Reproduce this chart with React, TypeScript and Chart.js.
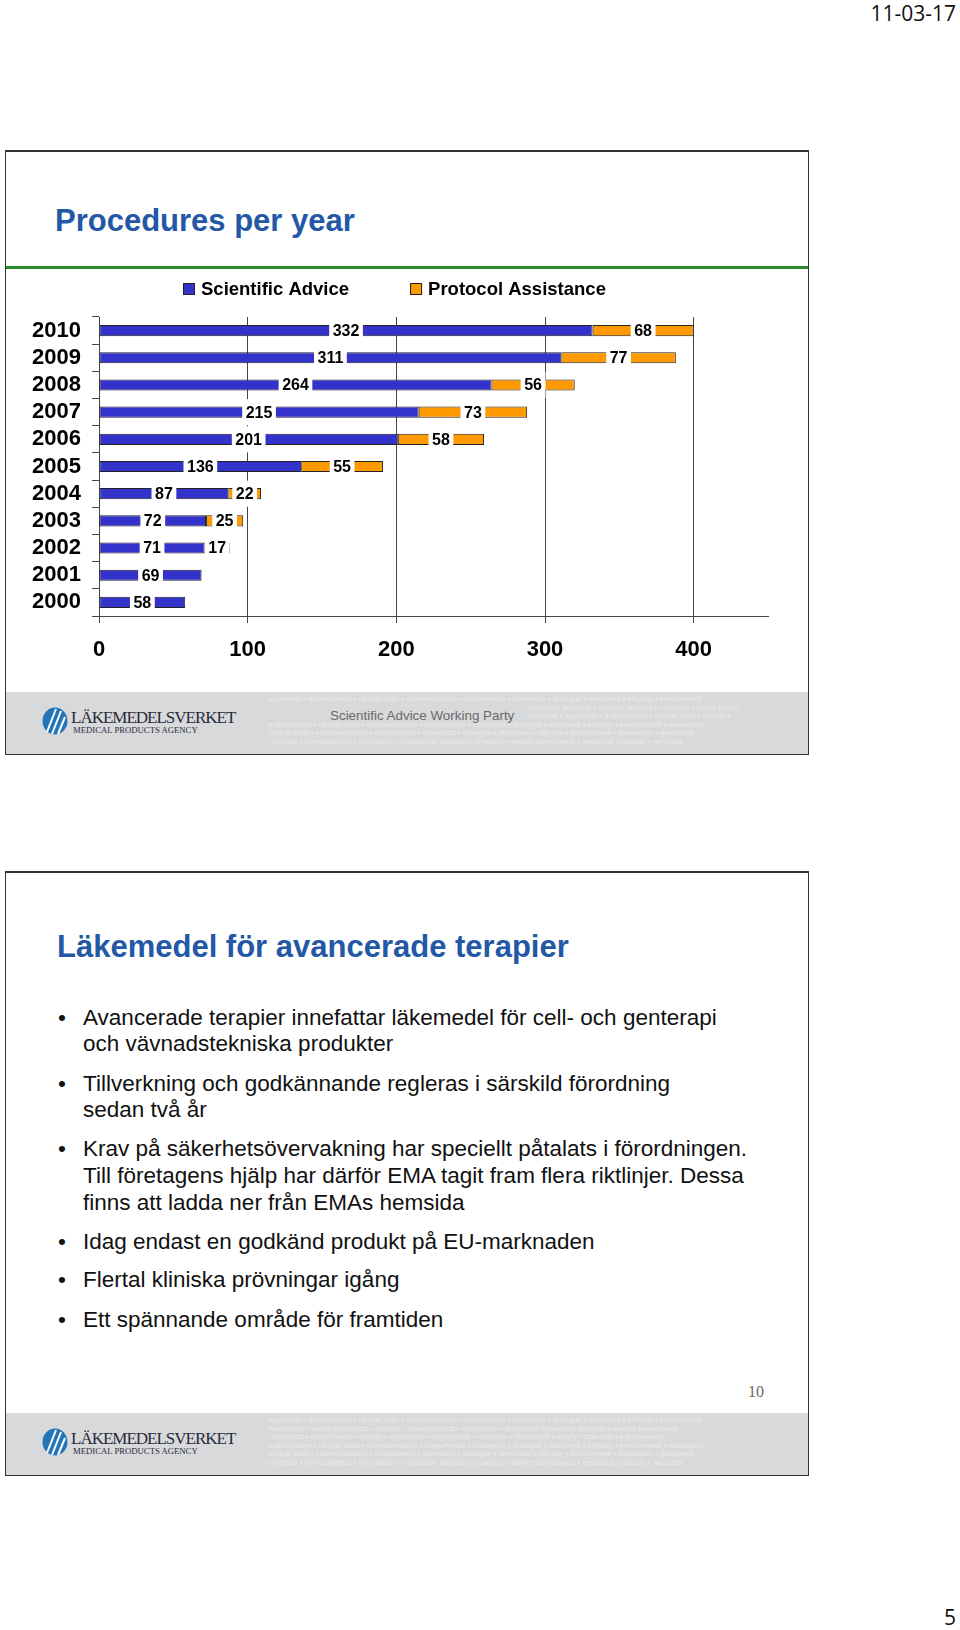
import React, { useEffect, useRef } from 'react';
import { Chart, registerables } from 'chart.js';

Chart.register(...registerables);

// ---------- data ----------
const years = ['2000', '2001', '2002', '2003', '2004', '2005', '2006', '2007', '2008', '2009', '2010'];
const scientificAdvice = [58, 69, 71, 72, 87, 136, 201, 215, 264, 311, 332];
const protocolAssistance = [null, null, 17, 25, 22, 55, 58, 73, 56, 77, 68];
const seriesNames = ['Scientific Advice', 'Protocol Assistance'];
const seriesColors = ['#3333CC', '#FF9900'];
const xMin = 0;
const xMax = 450;
const xStep = 100;
const xLastTick = 400;

const FONT = '"Liberation Sans", Arial, Helvetica, sans-serif';

const legendPlugin = {
  id: 'topLegend',
  afterDraw(chart: any) {
    const { ctx } = chart;
    const ds = chart.data.datasets;
    ctx.save();
    ctx.font = `bold 18.5px ${FONT}`;
    const box = 12;
    const gapText = 6;
    const gapItem = 61;
    const widths = ds.map((d: any) => box + gapText + ctx.measureText(d.label).width);
    const total = widths.reduce((a: number, b: number) => a + b, 0) + gapItem * (ds.length - 1);
    let x = Math.round(chart.width / 2 - total / 2);
    const y = 19;
    ds.forEach((d: any, i: number) => {
      ctx.fillStyle = d.backgroundColor;
      ctx.fillRect(x, y - box / 2, box, box);
      ctx.strokeStyle = '#222';
      ctx.lineWidth = 1;
      ctx.strokeRect(x + 0.5, y - box / 2 + 0.5, box - 1, box - 1);
      ctx.fillStyle = '#000';
      ctx.textBaseline = 'middle';
      ctx.textAlign = 'left';
      ctx.fillText(d.label, x + box + gapText, y + 1);
      x += widths[i] + gapItem;
    });
    ctx.restore();
  },
};

const segmentLabelPlugin = {
  id: 'segmentLabels',
  afterDatasetsDraw(chart: any) {
    const { ctx } = chart;
    ctx.save();
    ctx.font = `bold 16px ${FONT}`;
    ctx.textAlign = 'center';
    ctx.textBaseline = 'middle';
    chart.data.datasets.forEach((d: any, di: number) => {
      const meta = chart.getDatasetMeta(di);
      meta.data.forEach((bar: any, i: number) => {
        const v = d.data[i];
        if (v === null || v === undefined || v === 0) return;
        const p = bar.getProps(['x', 'y', 'base'], true);
        const cx = (p.x + p.base) / 2;
        const text = String(v);
        const w = ctx.measureText(text).width + 7;
        ctx.fillStyle = '#fff';
        ctx.fillRect(cx - w / 2, p.y - 13, w, 26);
        ctx.fillStyle = '#000';
        ctx.fillText(text, cx, p.y + 1);
      });
    });
    ctx.restore();
  },
};

function ProceduresChart() {
  const ref = useRef<HTMLCanvasElement | null>(null);
  useEffect(() => {
    if (!ref.current) return;
    const chart = new Chart(ref.current, {
      type: 'bar',
      data: {
        labels: years,
        datasets: [
          {
            label: seriesNames[0],
            data: scientificAdvice,
            backgroundColor: seriesColors[0],
            borderColor: '#222',
            borderWidth: 1,
            borderSkipped: false,
            barPercentage: 0.41,
            categoryPercentage: 1,
          },
          {
            label: seriesNames[1],
            data: protocolAssistance as any,
            backgroundColor: seriesColors[1],
            borderColor: '#222',
            borderWidth: 1,
            borderSkipped: false,
            barPercentage: 0.41,
            categoryPercentage: 1,
          },
        ],
      },
      options: {
        indexAxis: 'y',
        animation: false,
        responsive: false,
        maintainAspectRatio: false,
        layout: { padding: { top: 47, right: 3, left: 0, bottom: 0 } },
        plugins: { legend: { display: false }, tooltip: { enabled: false } },
        scales: {
          x: {
            stacked: true,
            min: xMin,
            max: xMax,
            ticks: {
              stepSize: xStep,
              font: { family: FONT, size: 22, weight: 'bold' },
              color: '#000',
              padding: 14,
            },
            grid: { color: '#444', lineWidth: 1, tickLength: 7, drawTicks: true },
            border: { color: '#444', width: 1 },
            afterBuildTicks: (s: any) => {
              s.ticks = s.ticks.filter((t: any) => t.value <= xLastTick);
            },
            afterFit: (s: any) => {
              s.height = 64;
            },
          } as any,
          y: {
            stacked: true,
            reverse: true,
            ticks: {
              autoSkip: false,
              font: { family: FONT, size: 22, weight: 'bold' },
              color: '#000',
              padding: 11,
            },
            grid: { drawOnChartArea: false, tickLength: 7, color: '#444', offset: true },
            border: { color: '#444', width: 1 },
            afterFit: (s: any) => {
              s.width = 82;
            },
          } as any,
        },
      },
      plugins: [legendPlugin, segmentLabelPlugin],
    });
    return () => chart.destroy();
  }, []);
  return (
    <canvas
      ref={ref}
      width={754}
      height={410}
      style={{ position: 'absolute', left: 17, top: 270, width: 754, height: 410 }}
    />
  );
}

const patternLines = [
  'approvals • authorisation • clinical trials • communication • competence • cosmetics • dialogue • directives • efficacy • environment',
  'evaluation • health economics • herbals • homeopathics • information • inspection laboratory analysis • market surveillance',
  '• narcotics • public health • quality • registration • regulations • reliability • risk/benefit • safety • scientific • transparency',
  'authorisation • clinical trials • communication • competence • cosmetics • dialogue • directives • efficacy • environment • evaluation',
  'clinical trials • communication • competence • cosmetics • dialogue • directives • efficacy • environment • evaluation • guidelines',
  '• herbals • homeopathics • information • inspection laboratory analysis • market surveillance • medicinal products • narcotics',
];
const patternLinesShort = [
  'medicinal products • medical devices • narcotics • public health',
  'vigilance • approvals • authorisation • clinical trials • dialogue',
];

function Footer({ top, caption }: { top: number; caption?: string }) {
  return (
    <div
      style={{
        position: 'absolute',
        left: 6,
        top,
        width: 802,
        height: 62,
        background: '#d8d9db',
        overflow: 'hidden',
      }}
    >
      <div style={{ position: 'absolute', left: 262, top: 3 }}>
        {patternLines.map((l, i) => {
          const skip = caption && (i === 1 || i === 2);
          return (
            <div
              key={i}
              style={{
                fontFamily: FONT,
                fontSize: 7.6,
                lineHeight: '8.6px',
                height: 8.6,
                color: '#e8e9ea',
                whiteSpace: 'nowrap',
                paddingLeft: skip ? 260 : 0,
              }}
            >
              {skip ? patternLinesShort[i - 1] : l}
            </div>
          );
        })}
      </div>
      <svg
        width={28}
        height={30}
        viewBox="0 0 28 30"
        style={{ position: 'absolute', left: 35, top: 14 }}
      >
        <ellipse cx={14} cy={15} rx={12.5} ry={13.5} fill="#2474b8" />
        <path d="M6 26 L15 3" stroke="#fff" strokeWidth={2} />
        <path d="M11 28 L20 5" stroke="#fff" strokeWidth={2} />
        <path d="M17 28 L24 11" stroke="#fff" strokeWidth={2} />
      </svg>
      <div
        style={{
          position: 'absolute',
          left: 65,
          top: 16,
          fontFamily: '"Liberation Serif", "Times New Roman", serif',
          fontSize: 17,
          letterSpacing: -1,
          lineHeight: '20px',
          color: '#2a2a3a',
          whiteSpace: 'nowrap',
        }}
      >
        LÄKEMEDELSVERKET
      </div>
      <div
        style={{
          position: 'absolute',
          left: 67,
          top: 33,
          fontFamily: '"Liberation Serif", "Times New Roman", serif',
          fontSize: 8.7,
          lineHeight: '10px',
          color: '#2a2a3a',
          whiteSpace: 'nowrap',
        }}
      >
        MEDICAL PRODUCTS AGENCY
      </div>
      {caption ? (
        <div
          style={{
            position: 'absolute',
            left: 324,
            top: 16,
            fontFamily: FONT,
            fontSize: 13.4,
            lineHeight: '16px',
            color: '#6a6a6a',
            whiteSpace: 'nowrap',
          }}
        >
          {caption}
        </div>
      ) : null}
    </div>
  );
}

const bodyLines = [
  { bullet: true, text: 'Avancerade terapier innefattar läkemedel för cell- och genterapi', y: 1019 },
  { bullet: false, text: 'och vävnadstekniska produkter', y: 1045 },
  { bullet: true, text: 'Tillverkning och godkännande regleras i särskild förordning', y: 1085 },
  { bullet: false, text: 'sedan två år', y: 1111 },
  { bullet: true, text: 'Krav på säkerhetsövervakning har speciellt påtalats i förordningen.', y: 1150 },
  { bullet: false, text: 'Till företagens hjälp har därför EMA tagit fram flera riktlinjer. Dessa', y: 1177 },
  { bullet: false, text: 'finns att ladda ner från EMAs hemsida', y: 1204 },
  { bullet: true, text: 'Idag endast en godkänd produkt på EU-marknaden', y: 1243 },
  { bullet: true, text: 'Flertal kliniska prövningar igång', y: 1281 },
  { bullet: true, text: 'Ett spännande område för framtiden', y: 1321 },
];

const titleStyle: React.CSSProperties = {
  position: 'absolute',
  left: 55,
  fontFamily: FONT,
  fontWeight: 'bold',
  fontSize: 31,
  lineHeight: '36px',
  color: '#2358a6',
  whiteSpace: 'nowrap',
};

const slideBox = (top: number, height: number): React.CSSProperties => ({
  position: 'absolute',
  left: 5,
  top,
  width: 804,
  height,
  boxSizing: 'border-box',
  border: '1px solid #333',
  borderTopWidth: 2,
  background: '#fff',
});

export default function App() {
  return (
    <div
      style={{
        position: 'absolute',
        left: 0,
        top: 0,
        width: 960,
        height: 1630,
        background: '#fff',
        overflow: 'hidden',
      }}
    >
      <div
        style={{
          position: 'absolute',
          right: 4,
          top: 0,
          fontFamily: '"Open Sans", "Noto Sans", sans-serif',
          fontSize: 21,
          lineHeight: '26px',
          color: '#111',
        }}
      >
        11-03-17
      </div>

      {/* Slide 1 */}
      <div style={slideBox(150, 605)} />
      <div style={{ ...titleStyle, top: 203 }}>Procedures per year</div>
      <div
        style={{
          position: 'absolute',
          left: 6,
          top: 266,
          width: 802,
          height: 3,
          background: '#2c8c2c',
        }}
      />
      <ProceduresChart />
      <Footer top={692} caption="Scientific Advice Working Party" />

      {/* Slide 2 */}
      <div style={slideBox(871, 605)} />
      <div style={{ ...titleStyle, left: 57, top: 929 }}>Läkemedel för avancerade terapier</div>
      {bodyLines.map((l, i) => (
        <React.Fragment key={i}>
          {l.bullet ? (
            <div
              style={{
                position: 'absolute',
                left: 58,
                top: l.y - 14,
                fontFamily: FONT,
                fontSize: 22.5,
                lineHeight: '26px',
                color: '#111',
              }}
            >
              •
            </div>
          ) : null}
          <div
            style={{
              position: 'absolute',
              left: 83,
              top: l.y - 14,
              fontFamily: FONT,
              fontSize: 22.5,
              lineHeight: '26px',
              color: '#111',
              whiteSpace: 'nowrap',
            }}
          >
            {l.text}
          </div>
        </React.Fragment>
      ))}
      <div
        style={{
          position: 'absolute',
          left: 748,
          top: 1383,
          fontFamily: '"Liberation Serif", "Times New Roman", serif',
          fontSize: 16,
          lineHeight: '18px',
          color: '#666',
        }}
      >
        10
      </div>
      <Footer top={1413} />

      <div
        style={{
          position: 'absolute',
          right: 4,
          top: 1604,
          fontFamily: '"Open Sans", "Noto Sans", sans-serif',
          fontSize: 21,
          lineHeight: '26px',
          color: '#111',
        }}
      >
        5
      </div>
    </div>
  );
}
